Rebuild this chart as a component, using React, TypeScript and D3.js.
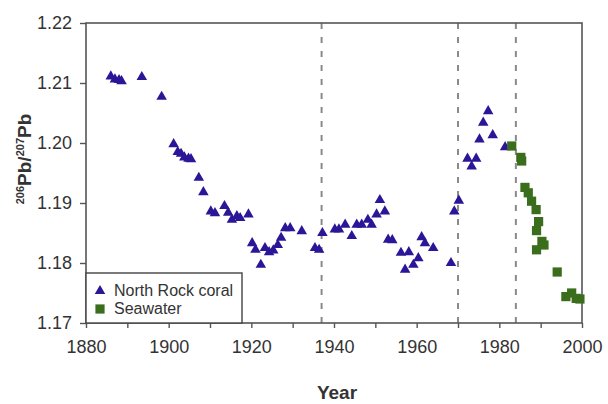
import * as d3 from 'd3';
import { useEffect, useRef } from 'react';

const coralYears = [
  1886, 1887, 1888, 1888.6, 1893.5, 1898.3, 1901.2, 1902.2, 1903, 1903.8, 1904.8, 1905.4,
  1907.3, 1908.4, 1910.2, 1911.2, 1913.5, 1914.4, 1915.3, 1916.5, 1917.3, 1919.3, 1920.2,
  1921, 1922.3, 1923.3, 1924.3, 1925.3, 1926.4, 1927.2, 1928.2, 1929.4, 1932.2, 1935.4,
  1936.4, 1937.2, 1940.2, 1941.2, 1942.7, 1944.3, 1945.5, 1946.7, 1948.2, 1949.1, 1950.3,
  1951.1, 1952.3, 1953.1, 1954.1, 1956.2, 1957.2, 1958.1, 1959.2, 1960.4, 1961.2, 1962,
  1964, 1968.3, 1969.1, 1970.2, 1972.3, 1973.3, 1974.4, 1975.2, 1976.1, 1977.3, 1978.4, 1981.4,
];
const coralValues = [
  1.2111, 1.2106, 1.2105, 1.2103, 1.211, 1.2077, 1.1998, 1.1985, 1.1982, 1.1976, 1.1974, 1.1973,
  1.1942, 1.1918, 1.1886, 1.1883, 1.1895, 1.1884, 1.1872, 1.1878, 1.1875, 1.1881, 1.1833,
  1.1822, 1.1797, 1.1825, 1.1818, 1.1821, 1.183, 1.1842, 1.1858, 1.1858, 1.1853, 1.1825,
  1.1822, 1.185, 1.1856, 1.1856, 1.1864, 1.1845, 1.1864, 1.1864, 1.1872, 1.1864, 1.1881,
  1.1905, 1.1886, 1.1839, 1.1838, 1.1817, 1.1789, 1.1818, 1.1797, 1.1808, 1.1843, 1.1833,
  1.1825, 1.18, 1.1886, 1.1904, 1.1974, 1.1961, 1.1974, 1.2006, 1.2034, 1.2053, 1.2013, 1.1993,
];

const seaYears = [
  1983, 1985.2, 1985.4, 1986.2, 1987, 1987.8, 1988.9, 1989.5, 1989, 1990.3, 1990.8, 1989,
  1994, 1996.1, 1997.5, 1998.6, 1999.5,
];
const seaValues = [
  1.1995, 1.1976, 1.197, 1.1926, 1.1917, 1.1903, 1.1889, 1.1869, 1.1854, 1.1836, 1.183, 1.1822,
  1.1785, 1.1744, 1.175, 1.1741, 1.174,
];

const dashedYears = [1937, 1970, 1984];
const xTicks = [1880, 1900, 1920, 1940, 1960, 1980, 2000];
const yTicks = [1.17, 1.18, 1.19, 1.2, 1.21, 1.22];

const legendLabels = ['North Rock coral', 'Seawater'];

const coralColor = '#2a1696';
const seaColor = '#3b6e1c';
const font = '"Liberation Sans", Arial, sans-serif';

const App = () => {
  const svgRef = useRef<SVGSVGElement>(null);

  useEffect(() => {
    const svg = d3.select(svgRef.current);
    svg.selectAll('*').remove();
    const left = 86, right = 582, top = 23, bottom = 323;

    const x = d3.scaleLinear().domain([1880, 2000]).range([left, right]);
    const y = d3.scaleLinear().domain([1.17, 1.22]).range([bottom, top]);

    // dashed markers
    svg.selectAll('.dash')
      .data(dashedYears)
      .enter()
      .append('line')
      .attr('x1', d => x(d)).attr('x2', d => x(d))
      .attr('y1', top).attr('y2', bottom)
      .attr('stroke', '#8a8a8a')
      .attr('stroke-width', 2)
      .attr('stroke-dasharray', '6,8');

    // frame
    svg.append('rect')
      .attr('x', left).attr('y', top)
      .attr('width', right - left).attr('height', bottom - top)
      .attr('fill', 'none')
      .attr('stroke', '#555')
      .attr('stroke-width', 1.6);

    const xAxis = svg.append('g')
      .attr('transform', `translate(0, ${bottom})`)
      .call(d3.axisBottom(x).tickValues(d3.range(1880, 2001, 10)).tickSize(5).tickPadding(12).tickFormat(d => xTicks.includes(+d) ? String(d) : ''));
    xAxis.select('.domain').remove();
    xAxis.selectAll('line').attr('stroke', '#555').attr('stroke-width', 1.4);
    xAxis.selectAll('text')
      .style('font-family', font).style('font-size', '18px').attr('fill', '#333');

    const yAxis = svg.append('g')
      .attr('transform', `translate(${left}, 0)`)
      .call(d3.axisLeft(y).tickValues(yTicks).tickSize(6).tickPadding(8).tickFormat(d3.format('.2f')));
    yAxis.select('.domain').remove();
    yAxis.selectAll('line').attr('stroke', '#555').attr('stroke-width', 1.4);
    yAxis.selectAll('text')
      .style('font-family', font).style('font-size', '18px').attr('fill', '#333');

    const tri = d3.symbol().type(d3.symbolTriangle).size(48)();
    const sq = d3.symbol().type(d3.symbolSquare).size(85)();

    svg.append('g').selectAll('path')
      .data(coralYears.map((yr, i) => [yr, coralValues[i]]))
      .enter()
      .append('path')
      .attr('d', tri)
      .attr('transform', d => `translate(${x(d[0])}, ${y(d[1])})`)
      .attr('fill', coralColor);

    svg.append('g').selectAll('path')
      .data(seaYears.map((yr, i) => [yr, seaValues[i]]))
      .enter()
      .append('path')
      .attr('d', sq)
      .attr('transform', d => `translate(${x(d[0])}, ${y(d[1])})`)
      .attr('fill', seaColor);

    // legend
    const lg = svg.append('g');
    lg.append('rect')
      .attr('x', left).attr('y', 273)
      .attr('width', 156).attr('height', bottom - 273)
      .attr('fill', 'white')
      .attr('stroke', '#444')
      .attr('stroke-width', 1.4);
    lg.append('path').attr('d', tri).attr('transform', 'translate(100, 291)').attr('fill', coralColor);
    lg.append('path').attr('d', sq).attr('transform', 'translate(100, 309)').attr('fill', seaColor);
    lg.selectAll('text')
      .data(legendLabels)
      .enter()
      .append('text')
      .attr('x', 114)
      .attr('y', (d, i) => 296 + i * 18)
      .text(d => d)
      .style('font-family', font).style('font-size', '16px').attr('fill', '#333');

    svg.append('text')
      .attr('x', 337).attr('y', 399)
      .attr('text-anchor', 'middle')
      .text('Year')
      .style('font-family', font).style('font-size', '19px').style('font-weight', 'bold').attr('fill', '#333');

    const yl = svg.append('text')
      .attr('transform', 'translate(31, 159) rotate(-90)')
      .attr('text-anchor', 'middle')
      .style('font-family', font).style('font-size', '19px').style('font-weight', 'bold').attr('fill', '#333');
    yl.append('tspan').attr('font-size', '11px').attr('dy', '-7').text('206');
    yl.append('tspan').attr('dy', '7').text('Pb/');
    yl.append('tspan').attr('font-size', '11px').attr('dy', '-7').text('207');
    yl.append('tspan').attr('dy', '7').text('Pb');
  }, []);

  return (
    <svg ref={svgRef} width={608} height={404} style={{ position: 'absolute', left: 0, top: 0, background: 'white' }}></svg>
  );
};

export default App;
